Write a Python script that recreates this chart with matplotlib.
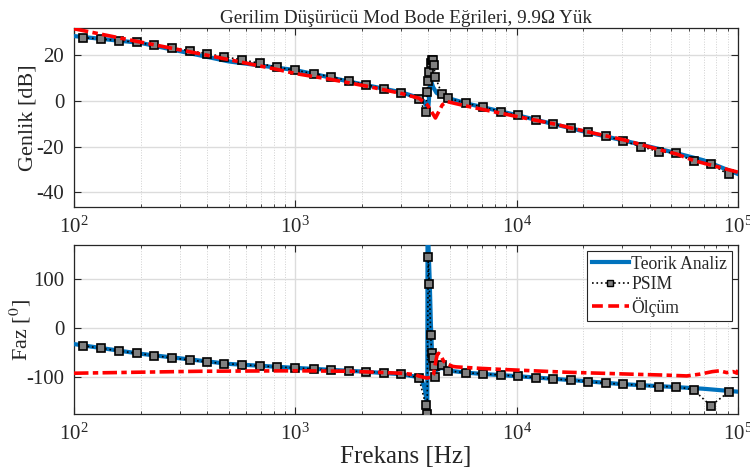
import matplotlib
matplotlib.use("Agg")
import matplotlib.pyplot as plt
from matplotlib.lines import Line2D
import numpy as np

plt.rcParams['font.family'] = ['Liberation Serif', 'DejaVu Serif']
plt.rcParams['mathtext.fontset'] = 'stix'
plt.rcParams['axes.unicode_minus'] = False

title = "Gerilim Düşürücü Mod Bode Eğrileri, 9.9Ω Yük"

# Theoretical (Teorik Analiz)
f_th_mag = [100, 200, 500, 1000, 2000, 3000, 3500, 3800, 3950, 4000, 4050, 4100, 4200,
            4350, 4600, 5000, 6000, 7000, 10000, 20000, 30000, 50000, 70000, 100000]
mag_th = [28.4, 25.4, 17.3, 13.5, 7.3, 3.8, 1.8, 0.0, -3.0, -2.0, 5.0, 9.0, 6.0,
          3.5, 2.2, 1.0, -1.2, -2.7, -6.2, -13.3, -17.2, -22.3, -26.0, -32.0]

f_th_ph = [100, 200, 500, 1000, 2000, 3000, 3500, 3750, 3850, 3920, 3950, 3960, 4000,
           4050, 4100, 4150, 4200, 4300, 4450, 4600, 5000, 6000, 7000, 10000, 20000,
           30000, 50000, 70000, 100000]
ph_th = [-33, -53, -73.8, -82, -89.5, -95, -100, -110, -125, -150, -185, 185, 170,
         100, 10, -50, -75, -88, -84, -82, -88, -92, -94.5, -99, -109,
         -115.5, -121, -125, -131]

# PSIM
f_psim = [110, 133, 160, 192, 231, 277, 333, 399, 478, 574, 690, 826, 994,
          1215, 1450, 1750, 2090, 2520, 3000, 3620,
          3885, 3945, 3990, 4032, 4093, 4135, 4182, 4226, 4300,
          4600, 4900, 5900, 7050, 8500, 10150, 12200, 14650, 17600, 21100, 25350,
          30350, 36500, 43850, 52700, 63100, 75500, 90800]
mag_psim = [27.7, 27.1, 26.4, 25.7, 24.3, 23.2, 22.0, 20.7, 19.3, 18.0, 16.5, 14.7, 13.5,
            11.9, 10.6, 8.7, 7.1, 5.4, 3.6, 0.7,
            -4.8, 4.1, 8.7, 12.5, 16.5, 17.8, 18.0, 15.7, 10.4,
            2.9, 1.2, -1.0, -2.7, -4.7, -6.3, -8.3, -10.1, -11.9, -13.6, -15.5,
            -17.5, -20.0, -22.2, -22.9, -26.5, -27.7, -32.2]
ph_psim = [-36.3, -41.7, -47.2, -52, -56.8, -61.6, -65.7, -69.8, -73.3, -75.3, -78, -80, -82,
           -84.2, -86.2, -88.3, -89.7, -91.8, -95.1, -102,
           -158, -177, 146, 90, -14, -52, -62, -78, -100,
           -76, -88.3, -91.8, -94.5, -96.5, -99.3, -102, -104.7, -107.4, -110.2, -113.6,
           -115.7, -117.7, -120.5, -120.5, -127.3, -160, -132]

# Measurement (Ölçüm)
f_ms_mag = [100, 192, 400, 826, 1000, 1450, 2090, 3000, 3620, 3950, 4300, 4620, 4850,
            5900, 8500, 10000, 14650, 21100, 30350, 36500, 43850, 52700, 63100, 75500, 100000]
mag_ms = [31.6, 26.1, 20.0, 13.8, 12.0, 9.4, 6.5, 3.3, 1.2, -1.7, -7.5, -1.7, -0.3,
          -2.2, -5.4, -6.8, -10.0, -13.6, -17.0, -19.1, -21.3, -23.2, -26.1, -28.1, -31.2]

f_ms_ph = [100, 192, 370, 1000, 1770, 3000, 3500, 3600, 3930, 4140, 4220, 4300, 4380,
           4440, 4530, 4680, 4870, 5150, 5350, 6850, 8420, 11850, 16850, 23900, 33200,
           47800, 58800, 67200, 76800, 82700, 89200, 95200, 99300, 100000]
ph_ms = [-93, -91, -89, -88, -89, -93, -96, -98.6, -103, -101, -95, -72, -55,
         -52, -55, -68, -74, -79, -80, -83, -85, -88, -91, -93, -95,
         -97, -98.6, -95, -89.7, -88, -91.8, -89.7, -93, -86]

blue = '#0072BD'
red = '#FF0000'
txt = '#262626'

fig = plt.figure(figsize=(7.5, 4.75), dpi=100)
ax1 = fig.add_axes([0.0987, 0.5636, 0.885, 0.3768])
ax2 = fig.add_axes([0.0987, 0.1284, 0.885, 0.3558])

red_ls = (0, (4, 1.2, 1.5, 1.2))

ax1.plot(f_th_mag, mag_th, color=blue, lw=3, zorder=3)
ax1.plot(f_psim, mag_psim, color='k', ls=':', lw=1.2, marker='s', ms=5.5,
         mfc='#808080', mec='k', mew=1.2, zorder=4)
ax1.plot(f_ms_mag, mag_ms, color=red, lw=2.6, ls=red_ls, zorder=5)

ax2.plot(f_th_ph, ph_th, color=blue, lw=3, zorder=3)
ax2.plot(f_psim, ph_psim, color='k', ls=':', lw=1.2, marker='s', ms=5.5,
         mfc='#808080', mec='k', mew=1.2, zorder=4)
ax2.plot(f_ms_ph, ph_ms, color=red, lw=2.6, ls=red_ls, zorder=5)

for ax in (ax1, ax2):
    ax.set_xscale('log')
    ax.set_xlim(100, 100000)
    ax.grid(True, which='major', axis='both', color='#dcdcdc', lw=1.0, ls='-', zorder=0)
    ax.grid(True, which='minor', axis='x', color='#d0d0d0', lw=0.7, ls=':', zorder=0)
    ax.set_axisbelow(True)
    ax.tick_params(which='both', direction='in', top=True, right=True, colors=txt,
                   labelsize=15, labelcolor=txt)
    ax.tick_params(which='major', length=5, width=0.8, pad=7)
    ax.tick_params(which='minor', length=2.5, width=0.6)
    for s in ax.spines.values():
        s.set_color(txt)
        s.set_linewidth(0.9)

ax1.set_ylim(-46.6, 31.8)
ax1.set_yticks([-40, -20, 0, 20])
ax2.set_ylim(-177, 171)
ax2.set_yticks([-100, 0, 100])

ax1.set_ylabel('Genlik [dB]', fontsize=16, color=txt)
ax2.set_ylabel('Faz [$^0$]', fontsize=16, color=txt)
ax1.yaxis.set_label_coords(-0.055, 0.5)
ax2.yaxis.set_label_coords(-0.062, 0.5)
ax2.set_xlabel('Frekans [Hz]', fontsize=18, color=txt, labelpad=1)
ax1.set_title(title, fontsize=13.8, color=txt, pad=4)

handles = [Line2D([], [], color=blue, lw=3),
           Line2D([], [], color='k', ls=':', lw=1.2, marker='s', ms=5, mfc='#808080', mec='k'),
           Line2D([], [], color=red, lw=2.6, ls=(0, (3, 1.5)))]
leg = ax2.legend(handles, ['Teorik Analiz', 'PSIM', 'Ölçüm'], loc='upper right',
                 fontsize=12.7, fancybox=False, framealpha=1, edgecolor=txt,
                 handlelength=2.1, handletextpad=0.15, borderpad=0.25, labelspacing=0.2,
                 borderaxespad=0.35)
leg.get_frame().set_linewidth(0.8)
for t in leg.get_texts():
    t.set_color(txt)

fig.savefig('out.png', dpi=100)
